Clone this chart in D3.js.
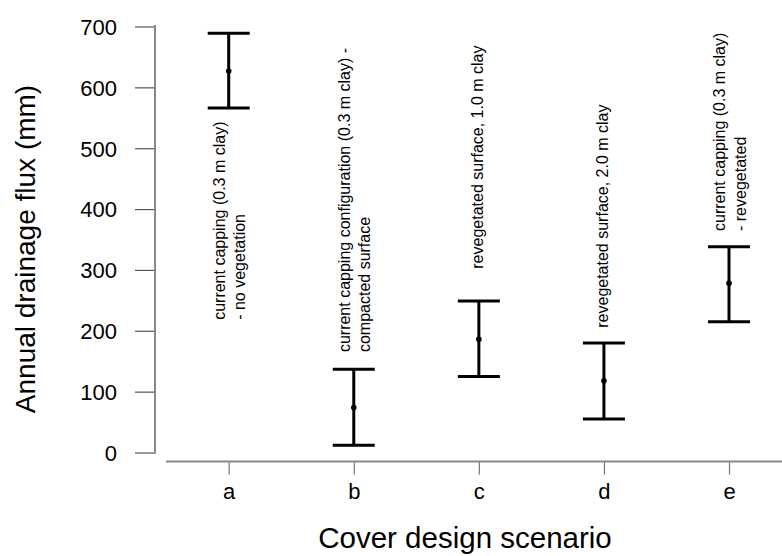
<!DOCTYPE html>
<html>
<head>
<meta charset="utf-8">
<script src="https://cdn.jsdelivr.net/npm/d3@7"></script>
<style>
  html, body { margin: 0; padding: 0; background: #fff; }
  svg { display: block; font-family: "Liberation Sans", Arial, sans-serif; }
</style>
</head>
<body>
<svg id="chart" width="782" height="556"></svg>
<script>
// ---- data ----
const categories = ["a", "b", "c", "d", "e"];
const meanValues = [627, 74, 186, 118, 278];
const lowerValues = [566, 12, 125, 55, 215];
const upperValues = [689, 137, 249, 180, 338];
const yTicks = [0, 100, 200, 300, 400, 500, 600, 700];
const labelLines = [
  ["current capping (0.3 m clay)", "- no vegetation"],
  ["current capping configuration (0.3 m clay) -", "compacted surface"],
  ["revegetated surface,  1.0 m clay"],
  ["revegetated surface, 2.0 m clay"],
  ["current capping (0.3 m clay)", "- revegetated"]
];
// value (mm) at which each annotation begins
const labelAnchor = [218, 165, 302, 205, 364];
const yTitle = "Annual drainage flux (mm)";
const xTitle = "Cover design scenario";

// ---- layout ----
const svg = d3.select("#chart");
const y = d3.scaleLinear().domain([0, 700]).range([452.5, 26.5]);
const x = d3.scalePoint().domain(categories).range([228.7, 729]);

// y axis
const yAxisX = 155;
const yAxis = d3.axisLeft(y).tickValues(yTicks).tickSize(20).tickPadding(18).tickSizeOuter(0);
const gy = svg.append("g").attr("transform", `translate(${yAxisX},0)`).call(yAxis);
gy.select(".domain").remove();
gy.selectAll(".tick line").attr("stroke", "#555").attr("stroke-width", 1.2);
gy.selectAll(".tick text").attr("font-size", 22).attr("fill", "#000").attr("dy", "0.36em");
svg.append("line")
  .attr("x1", yAxisX).attr("x2", yAxisX)
  .attr("y1", y(700) - 1.5).attr("y2", y(0) + 1)
  .attr("stroke", "#888").attr("stroke-width", 2);

// x axis
const xAxisY = 461.5;
const xAxis = d3.axisBottom(x).tickSize(13).tickPadding(9).tickSizeOuter(0);
const gx = svg.append("g").attr("transform", `translate(0,${xAxisY})`).call(xAxis);
gx.select(".domain").remove();
gx.selectAll(".tick line").attr("stroke", "#777").attr("stroke-width", 1.2);
gx.selectAll(".tick text").attr("font-size", 22).attr("fill", "#000").attr("dy", "0.71em");
svg.append("line")
  .attr("x1", 166).attr("x2", 782)
  .attr("y1", xAxisY).attr("y2", xAxisY)
  .attr("stroke", "#888").attr("stroke-width", 2);

// error bars
const data = categories.map((c, i) => ({
  c, mean: meanValues[i], lo: lowerValues[i], hi: upperValues[i],
  lines: labelLines[i], anchor: labelAnchor[i]
}));
const capHalf = 21;
const bars = svg.append("g").selectAll("g").data(data).join("g");
bars.append("line")
  .attr("x1", d => x(d.c)).attr("x2", d => x(d.c))
  .attr("y1", d => y(d.hi)).attr("y2", d => y(d.lo))
  .attr("stroke", "#000").attr("stroke-width", 3);
bars.append("line")
  .attr("x1", d => x(d.c) - capHalf).attr("x2", d => x(d.c) + capHalf)
  .attr("y1", d => y(d.hi)).attr("y2", d => y(d.hi))
  .attr("stroke", "#000").attr("stroke-width", 3);
bars.append("line")
  .attr("x1", d => x(d.c) - capHalf).attr("x2", d => x(d.c) + capHalf)
  .attr("y1", d => y(d.lo)).attr("y2", d => y(d.lo))
  .attr("stroke", "#000").attr("stroke-width", 3);
bars.append("circle")
  .attr("cx", d => x(d.c)).attr("cy", d => y(d.mean))
  .attr("r", 2.8).attr("fill", "#000");

// annotations (rotated)
bars.each(function(d) {
  const g = d3.select(this);
  const n = d.lines.length;
  const lineGap = 20.5;
  const base = n === 1 ? x(d.c) + 4 : x(d.c) - 4;
  d.lines.forEach((t, k) => {
    const bx = base + k * lineGap;
    g.append("text")
      .attr("transform", `translate(${bx},${y(d.anchor)}) rotate(-90)`)
      .attr("text-anchor", "start")
      .attr("font-size", 16)
      .attr("fill", "#000")
      .text(t);
  });
});

// titles
svg.append("text")
  .attr("transform", `translate(35,249) rotate(-90)`)
  .attr("text-anchor", "middle")
  .attr("font-size", 28).attr("fill", "#000")
  .text(yTitle);
svg.append("text")
  .attr("x", 465).attr("y", 548)
  .attr("text-anchor", "middle")
  .attr("font-size", 29.5).attr("fill", "#000")
  .text(xTitle);
</script>
</body>
</html>
